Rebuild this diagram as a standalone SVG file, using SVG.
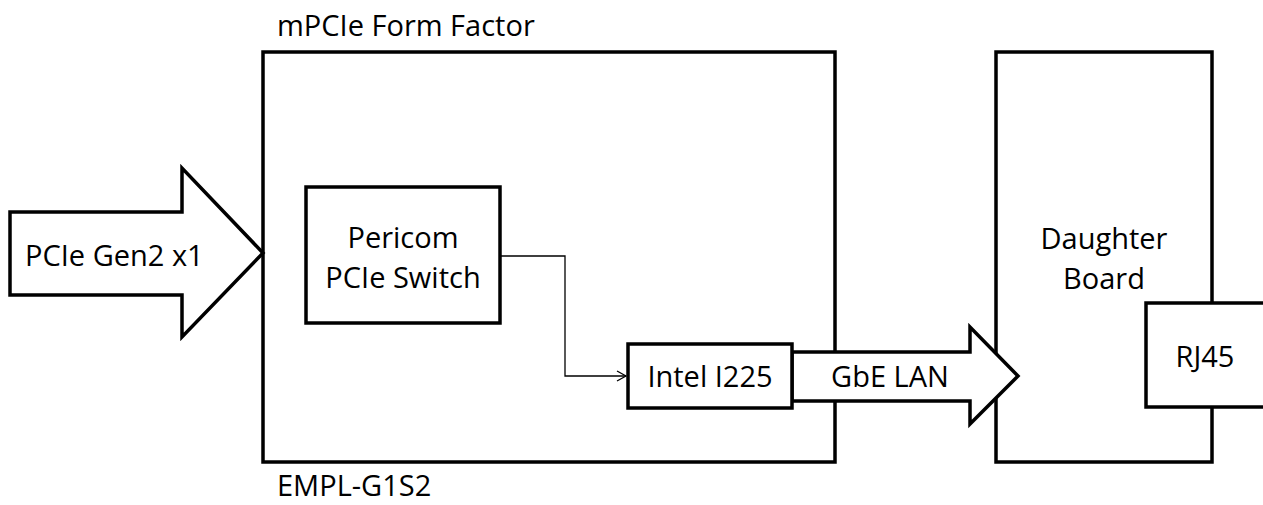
<svg xmlns="http://www.w3.org/2000/svg" width="1263" height="505" viewBox="0 0 1263 505">
<style>
.box{fill:#fff;stroke:#000;stroke-width:3.5}
.t{font-family:"Open Sans","Liberation Sans",sans-serif;font-size:29px;fill:#000}
.c{text-anchor:middle}
.wire{fill:none;stroke:#000;stroke-width:1.3}
</style>
<defs>
<marker id="open" markerWidth="12" markerHeight="12" refX="10" refY="6" orient="auto" markerUnits="userSpaceOnUse">
<path d="M1,1 L10,6 L1,11" fill="none" stroke="#000" stroke-width="1.3"/>
</marker>
</defs>
<g id="mpcie">
<rect class="box" x="263" y="52" width="572" height="410"/>
<text class="t" x="277" y="36">mPCIe Form Factor</text>
<text class="t" x="277" y="496">EMPL-G1S2</text>
</g>
<g id="daughter">
<rect class="box" x="996" y="52" width="216" height="410"/>
<text class="t c" x="1104" y="249">Daughter</text>
<text class="t c" x="1104" y="289">Board</text>
</g>
<g id="pcie-arrow">
<path class="box" d="M10,212 L182,212 L182,168 L263,253 L182,337 L182,295 L10,295 Z"/>
<text class="t" x="25" y="266">PCIe Gen2 x1</text>
</g>
<g id="pericom">
<rect class="box" x="306" y="187" width="194" height="136"/>
<text class="t c" x="403" y="248">Pericom</text>
<text class="t c" x="403" y="288">PCIe Switch</text>
</g>
<g id="gbe-arrow">
<path class="box" d="M792,352 L970,352 L970,327 L1018,376 L970,424 L970,401 L792,401 Z"/>
<text class="t c" x="890" y="387">GbE LAN</text>
</g>
<g id="intel">
<rect class="box" x="628" y="344" width="164" height="64"/>
<text class="t c" x="710" y="387">Intel I225</text>
</g>
<g id="rj45">
<rect class="box" x="1146" y="303" width="120" height="104"/>
<text class="t c" x="1205" y="367">RJ45</text>
</g>
<g id="connectors">
<polyline class="wire" points="500,256 565,256 565,376 626,376" marker-end="url(#open)"/>
</g>
</svg>
